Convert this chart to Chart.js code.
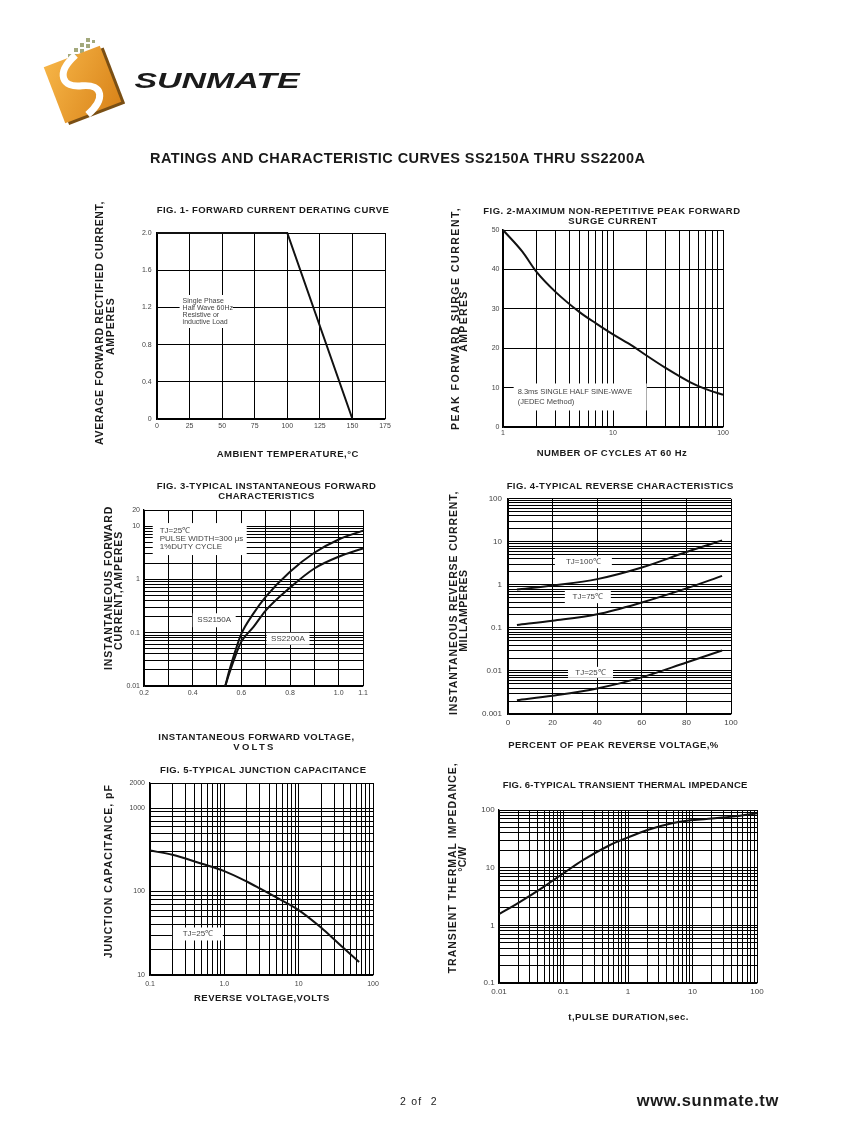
<!DOCTYPE html>
<html>
<head>
<meta charset="utf-8">
<title>SS2150A THRU SS2200A curves</title>
<script src="https://cdn.jsdelivr.net/npm/chart.js@4.4.1/dist/chart.umd.min.js"></script>
<style>
  html, body { margin: 0; padding: 0; background: #fff; }
  body { width: 847px; height: 1125px; position: relative; overflow: hidden; }
  canvas { position: absolute; }
  #page { position: absolute; left: 0; top: 0; pointer-events: none; }
</style>
</head>
<body>
<canvas id="fig1"></canvas>
<canvas id="fig2"></canvas>
<canvas id="fig3"></canvas>
<canvas id="fig4"></canvas>
<canvas id="fig5"></canvas>
<canvas id="fig6"></canvas>

<svg id="page" width="847" height="1125" font-family="Liberation Sans, Arial, Helvetica, sans-serif">
  <defs>
    <linearGradient id="orange" x1="0" y1="0" x2="1" y2="1">
      <stop offset="0" stop-color="#f6b446"/>
      <stop offset="1" stop-color="#d9841a"/>
    </linearGradient>
  </defs>
  <!-- logo -->
  <g fill="#a3a97c">
    <rect x="86" y="38" width="4" height="4"/><rect x="80" y="43" width="4" height="4"/>
    <rect x="86" y="44" width="4" height="4"/><rect x="74" y="48" width="4" height="4"/>
    <rect x="80" y="49" width="4" height="4"/><rect x="68" y="54" width="4" height="4"/>
    <rect x="74" y="54" width="4" height="4"/><rect x="92" y="40" width="3" height="3"/>
  </g>
  <g transform="translate(82.5,84.5) rotate(-21)">
    <rect x="-27" y="-27" width="60" height="60" fill="#7a4f14"/>
    <rect x="-30" y="-30" width="60" height="60" fill="url(#orange)"/>
    <path d="M 4,-30 C -22,-20 -20,-4 -1,1 C 20,7 16,22 -6,30" stroke="#fff" stroke-width="7" fill="none"/>
  </g>
  <text x="217" y="80" text-anchor="middle" dominant-baseline="central" font-size="22" font-weight="bold" font-style="italic" textLength="165" lengthAdjust="spacingAndGlyphs" fill="#1b1b1b">SUNMATE</text>

  <g font-weight="bold" fill="#1a1a1a" text-anchor="middle" dominant-baseline="central" style="white-space:pre">
    <text x="397.5" y="157.5" font-size="14.5" textLength="495" lengthAdjust="spacing">RATINGS AND CHARACTERISTIC CURVES SS2150A THRU SS2200A</text>

    <text x="272.8" y="209" font-size="9.5" textLength="232" lengthAdjust="spacing">FIG. 1- FORWARD CURRENT DERATING CURVE</text>
    <text x="287.5" y="453" font-size="9.5" textLength="141.7" lengthAdjust="spacing">AMBIENT TEMPERATURE,°C</text>
    <text transform="translate(99,323.3) rotate(-90)" font-size="10.5" textLength="243.3" lengthAdjust="spacing">AVERAGE FORWARD RECTIFIED CURRENT,</text>
    <text transform="translate(110,326.7) rotate(-90)" font-size="10.5" textLength="56.7" lengthAdjust="spacing">AMPERES</text>

    <text x="611.7" y="210" font-size="9.5" textLength="256.7" lengthAdjust="spacing">FIG. 2-MAXIMUM NON-REPETITIVE PEAK FORWARD</text>
    <text x="612.8" y="220" font-size="9.5" textLength="89" lengthAdjust="spacing">SURGE CURRENT</text>
    <text x="611.7" y="452.7" font-size="9.5" textLength="150" lengthAdjust="spacing">NUMBER OF CYCLES AT 60 Hz</text>
    <text transform="translate(455,319.2) rotate(-90)" font-size="10.5" textLength="221.7" lengthAdjust="spacing">PEAK   FORWARD SURGE CURRENT,</text>
    <text transform="translate(463.3,321.7) rotate(-90)" font-size="10.5" textLength="60" lengthAdjust="spacing">AMPERES</text>

    <text x="266.3" y="485" font-size="9.5" textLength="219" lengthAdjust="spacing">FIG. 3-TYPICAL INSTANTANEOUS FORWARD</text>
    <text x="266.3" y="495" font-size="9.5" textLength="96" lengthAdjust="spacing">CHARACTERISTICS</text>
    <text x="256.2" y="736.7" font-size="9.5" textLength="195.7" lengthAdjust="spacing">INSTANTANEOUS FORWARD VOLTAGE,</text>
    <text x="253.3" y="746.7" font-size="9.5" textLength="40" lengthAdjust="spacing">VOLTS</text>
    <text transform="translate(108.3,588.3) rotate(-90)" font-size="10.5" textLength="163.3" lengthAdjust="spacing">INSTANTANEOUS FORWARD</text>
    <text transform="translate(118.3,590.8) rotate(-90)" font-size="10.5" textLength="118.3" lengthAdjust="spacing">CURRENT,AMPERES</text>

    <text x="620" y="485" font-size="9.5" textLength="226.7" lengthAdjust="spacing">FIG. 4-TYPICAL REVERSE CHARACTERISTICS</text>
    <text x="613.3" y="744.3" font-size="9.5" textLength="210" lengthAdjust="spacing">PERCENT OF PEAK REVERSE VOLTAGE,%</text>
    <text transform="translate(452.7,603.3) rotate(-90)" font-size="10.5" textLength="223.3" lengthAdjust="spacing">INSTANTANEOUS REVERSE CURRENT,</text>
    <text transform="translate(463.3,610.8) rotate(-90)" font-size="10.5" textLength="81.7" lengthAdjust="spacing">MILLAMPERES</text>

    <text x="263" y="769.3" font-size="9.5" textLength="206" lengthAdjust="spacing">FIG. 5-TYPICAL JUNCTION CAPACITANCE</text>
    <text x="261.7" y="997.7" font-size="9.5" textLength="135.3" lengthAdjust="spacing">REVERSE VOLTAGE,VOLTS</text>
    <text transform="translate(108.3,871.7) rotate(-90)" font-size="10.5" textLength="173.3" lengthAdjust="spacing">JUNCTION CAPACITANCE, pF</text>

    <text x="625" y="784" font-size="9.5" textLength="244.7" lengthAdjust="spacing">FIG. 6-TYPICAL TRANSIENT THERMAL IMPEDANCE</text>
    <text x="628.3" y="1016.7" font-size="9.5" textLength="120" lengthAdjust="spacing">t,PULSE DURATION,sec.</text>
    <text transform="translate(451.7,868.3) rotate(-90)" font-size="10.5" textLength="210" lengthAdjust="spacing">TRANSIENT THERMAL IMPEDANCE,</text>
    <text transform="translate(461.7,859.2) rotate(-90)" font-size="10.5" textLength="25" lengthAdjust="spacing">°C/W</text>

    <text x="707.5" y="1100" font-size="16.5" textLength="141.7" lengthAdjust="spacing">www.sunmate.tw</text>
  </g>
  <text x="418.3" y="1100.5" font-size="10.5" fill="#222" text-anchor="middle" dominant-baseline="central" style="white-space:pre" textLength="36.7" lengthAdjust="spacing">2 of  2</text>
</svg>

<script>
// ---- data ----

// fig 1 - derating
const fig1Temp = [0, 100, 150];
const fig1Current = [2.0, 2.0, 0];
const fig1XLabels = ['0', '25', '50', '75', '100', '125', '150', '175'];
const fig1YLabels = ['0', '0.4', '0.8', '1.2', '1.6', '2.0'];

// fig 2 - surge current
const fig2Cycles = [1, 1.5, 2, 3, 5, 7, 10, 15, 20, 30, 50, 70, 100];
const fig2Surge = [50, 44.5, 39.5, 34.3, 29.1, 26.3, 23.5, 20.6, 18.2, 15.0, 11.4, 9.6, 8.2];
const fig2XLabels = ['1', '10', '100'];
const fig2YLabels = ['0', '10', '20', '30', '40', '50'];

// fig 3 - forward characteristics
const fig3Volts = [0.534, 0.55, 0.575, 0.6, 0.65, 0.7, 0.8, 0.9, 1.0, 1.1];
const fig3SS2150A = [0.01, 0.019, 0.045, 0.095, 0.23, 0.47, 1.39, 3.16, 5.6, 8.2];
const fig3SS2200A = [0.01, 0.017, 0.036, 0.068, 0.128, 0.26, 0.70, 1.6, 2.66, 3.8];
const fig3XLabels = ['0.2', '0.4', '0.6', '0.8', '1.0', '1.1'];
const fig3YLabels = ['0.01', '0.1', '1', '10', '20'];

// fig 4 - reverse characteristics
const fig4Percent = [4, 20, 40, 60, 80, 96];
const fig4Tj100 = [0.78, 0.97, 1.36, 2.53, 5.8, 10.8];
const fig4Tj75 = [0.117, 0.147, 0.207, 0.39, 0.83, 1.62];
const fig4Tj25 = [0.0021, 0.00266, 0.0039, 0.0071, 0.0157, 0.0298];
const fig4XLabels = ['0', '20', '40', '60', '80', '100'];
const fig4YLabels = ['0.001', '0.01', '0.1', '1', '10', '100'];

// fig 5 - junction capacitance
const fig5Volts = [0.1, 0.2, 0.5, 1, 2, 3, 5, 10, 20, 35, 65];
const fig5Cap = [310, 276, 215, 176, 132, 109, 85, 60, 37, 23.5, 14.3];
const fig5XLabels = ['0.1', '1.0', '10', '100'];
const fig5YLabels = ['10', '100', '1000', '2000'];

// fig 6 - transient thermal impedance
const fig6Time = [0.01, 0.02, 0.05, 0.1, 0.2, 0.5, 1, 2, 5, 10, 20, 50, 100];
const fig6Zth = [1.56, 2.45, 4.7, 8.0, 13.5, 24, 33.5, 45, 59.5, 67, 71, 78.5, 87.5];
const fig6XLabels = ['0.01', '0.1', '1', '10', '100'];
const fig6YLabels = ['0.1', '1', '10', '100'];

// ---- helpers ----
Chart.defaults.font.family = '"Liberation Sans", Arial, sans-serif';
Chart.defaults.color = '#444';

function logGrid(min, max) {
  var vals = [];
  for (var e = Math.floor(Math.log10(min)); e <= Math.ceil(Math.log10(max)); e++) {
    for (var m = 1; m < 10; m++) {
      var v = +(m * Math.pow(10, e)).toPrecision(6);
      if (v >= min * 0.9999 && v <= max * 1.0001) vals.push(v);
    }
  }
  if (vals[vals.length - 1] < max) vals.push(max);
  return vals;
}

function linGrid(min, max, step) {
  var vals = [];
  var n = Math.round((max - min) / step);
  for (var i = 0; i <= n; i++) vals.push(+(min + i * step).toFixed(6));
  return vals;
}

function axis(pos, type, min, max, grid, labels, pad, size) {
  return {
    type: type, min: min, max: max, position: pos,
    afterBuildTicks: function (s) { s.ticks = grid.map(function (v) { return { value: v }; }); },
    afterFit: function (s) { if (pos === 'left') s.width = 45; else s.height = 22; },
    grid: { color: '#000', lineWidth: 1, drawTicks: false },
    border: { color: '#000', width: 1.3 },
    ticks: {
      autoSkip: false, maxRotation: 0, minRotation: 0, padding: pad, color: '#444',
      font: { size: size },
      callback: function (v) {
        var l = labels.find(function (t) { return Math.abs(parseFloat(t) - v) <= 1e-6 * Math.abs(v); });
        return l === undefined ? '' : l;
      }
    }
  };
}

function curve(xs, ys, smooth) {
  return {
    data: xs.map(function (x, i) { return { x: x, y: ys[i] }; }),
    borderColor: '#111', borderWidth: 2, pointRadius: 0, fill: false,
    clip: 3,
    tension: smooth ? 0.4 : 0,
    cubicInterpolationMode: smooth ? 'monotone' : 'default'
  };
}

// white boxed labels sitting on the grid (positioned in data units)
function boxLabels(items) {
  return {
    id: 'boxLabels',
    beforeDatasetsDraw: function (chart) {
      var ctx = chart.ctx, xs = chart.scales.x, ys = chart.scales.y;
      items.forEach(function (it) {
        var cx = xs.getPixelForValue(it.x), cy = ys.getPixelForValue(it.y);
        ctx.save();
        ctx.fillStyle = '#fff';
        ctx.fillRect(cx - it.w / 2, cy - it.h / 2, it.w, it.h);
        ctx.font = it.size + 'px "Liberation Sans", Arial, sans-serif';
        ctx.fillStyle = '#444';
        ctx.textBaseline = 'middle';
        ctx.textAlign = it.left ? 'left' : 'center';
        var tx = it.left ? cx - it.w / 2 + it.left : cx;
        it.lines.forEach(function (s, i) {
          ctx.fillText(s, tx, cy + (i - (it.lines.length - 1) / 2) * it.lh);
        });
        ctx.restore();
      });
    }
  };
}

function makeChart(id, rect, datasets, xAxis, yAxis, notes) {
  var c = document.getElementById(id);
  c.width = rect.R - rect.L + 65;
  c.height = rect.B - rect.T + 32;
  c.style.left = (rect.L - 45) + 'px';
  c.style.top = (rect.T - 10) + 'px';
  return new Chart(c, {
    type: 'line',
    data: { datasets: datasets },
    options: {
      responsive: false, animation: false, devicePixelRatio: 1,
      layout: { padding: { top: 10, right: 20, left: 0, bottom: 0 } },
      plugins: { legend: { display: false }, tooltip: { enabled: false }, title: { display: false } },
      scales: { x: xAxis, y: yAxis }
    },
    plugins: [boxLabels(notes)]
  });
}

// fig 1
makeChart('fig1', { L: 157, T: 233, R: 385, B: 419 },
  [curve(fig1Temp, fig1Current, false)],
  axis('bottom', 'linear', 0, 175, linGrid(0, 175, 25), fig1XLabels, 2.5, 7),
  axis('left', 'linear', 0, 2, linGrid(0, 2, 0.4), fig1YLabels, 5.3, 7),
  [{ x: 37.7, y: 1.156, w: 53, h: 33, left: 3, size: 7, lh: 7.2,
     lines: ['Single Phase', 'Half Wave 60Hz', 'Resistive or', 'inductive Load'] }]);

// fig 2
makeChart('fig2', { L: 503, T: 230, R: 723, B: 427 },
  [curve(fig2Cycles, fig2Surge, true)],
  axis('bottom', 'logarithmic', 1, 100, logGrid(1, 100), fig2XLabels, 2.1, 7),
  axis('left', 'linear', 0, 50, linGrid(0, 50, 10), fig2YLabels, 3.5, 7),
  [{ x: 5.03, y: 7.62, w: 133, h: 27, left: 4, size: 7.5, lh: 10,
     lines: ['8.3ms SINGLE HALF SINE-WAVE', '(JEDEC Method)'] }]);

// fig 3
makeChart('fig3', { L: 144, T: 510, R: 363, B: 686 },
  [curve(fig3Volts, fig3SS2150A, true), curve(fig3Volts, fig3SS2200A, true)],
  axis('bottom', 'linear', 0.2, 1.1, linGrid(0.2, 1.1, 0.1), fig3XLabels, 2.5, 7),
  axis('left', 'logarithmic', 0.01, 20, logGrid(0.01, 20), fig3YLabels, 4, 7),
  [{ x: 0.429, y: 5.7, w: 94, h: 32, left: 7, size: 8, lh: 8,
     lines: ['TJ=25\u2103', 'PULSE WIDTH=300 \u03bcs', '1%DUTY CYCLE'] },
   { x: 0.4885, y: 0.171, w: 43, h: 14, size: 8, lh: 8, lines: ['SS2150A'] },
   { x: 0.7918, y: 0.0771, w: 43, h: 12, size: 8, lh: 8, lines: ['SS2200A'] }]);

// fig 4
makeChart('fig4', { L: 508, T: 498, R: 731, B: 714 },
  [curve(fig4Percent, fig4Tj100, true), curve(fig4Percent, fig4Tj75, true), curve(fig4Percent, fig4Tj25, true)],
  axis('bottom', 'linear', 0, 100, linGrid(0, 100, 20), fig4XLabels, 3.5, 8),
  axis('left', 'logarithmic', 0.001, 100, logGrid(0.001, 100), fig4YLabels, 6, 8),
  [{ x: 33.8, y: 3.35, w: 57, h: 12, size: 8, lh: 8, lines: ['TJ=100\u2103'] },
   { x: 35.8, y: 0.533, w: 46, h: 13, size: 8, lh: 8, lines: ['TJ=75\u2103'] },
   { x: 37.0, y: 0.00929, w: 45, h: 11, size: 8, lh: 8, lines: ['TJ=25\u2103'] }]);

// fig 5
makeChart('fig5', { L: 150, T: 783, R: 373, B: 975 },
  [curve(fig5Volts, fig5Cap, true)],
  axis('bottom', 'logarithmic', 0.1, 100, logGrid(0.1, 100), fig5XLabels, 4.5, 7),
  axis('left', 'logarithmic', 10, 2000, logGrid(10, 1000).concat([2000]), fig5YLabels, 5, 7),
  [{ x: 0.441, y: 31, w: 50, h: 13, size: 8, lh: 8, lines: ['TJ=25\u2103'] }]);

// fig 6
makeChart('fig6', { L: 499, T: 810, R: 757, B: 983 },
  [curve(fig6Time, fig6Zth, true)],
  axis('bottom', 'logarithmic', 0.01, 100, logGrid(0.01, 100), fig6XLabels, 4, 8),
  axis('left', 'logarithmic', 0.1, 100, logGrid(0.1, 100), fig6YLabels, 4.3, 8),
  []);
</script>
</body>
</html>
